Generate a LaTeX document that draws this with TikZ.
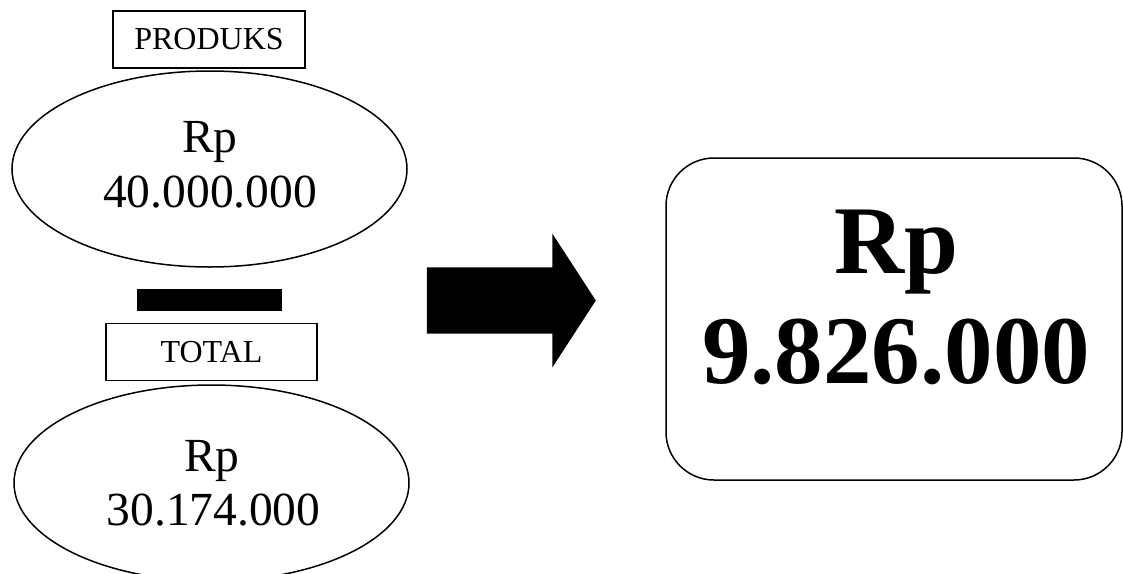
\documentclass[tikz,border=0pt]{standalone}
\usepackage{fontspec}
\setmainfont{Liberation Serif}
\usetikzlibrary{shapes.geometric,shapes.arrows}
\begin{document}
\begin{tikzpicture}[x=1pt,y=-1pt,
  lbl/.style={draw, line width=1.2pt, minimum width=192pt, minimum height=57pt, inner sep=0pt, font=\fontsize{32}{38}\selectfont},
  oval/.style={draw, ellipse, line width=1.5pt, minimum width=395pt, minimum height=196pt, inner sep=0pt},
  val/.style={anchor=base, inner sep=0pt, font=\fontsize{47.5}{56}\selectfont},
  big/.style={anchor=base, inner sep=0pt, font=\fontsize{97}{110}\selectfont\bfseries},
  blockarrow/.style={single arrow, fill=black, draw=none, inner xsep=0pt, inner ysep=33pt, minimum height=169pt, single arrow head extend=33.5pt, single arrow tip angle=114},
  resbox/.style={draw, rounded corners=48pt, line width=1.5pt, minimum width=456pt, minimum height=322pt, inner sep=0pt}]
\useasboundingbox (0,0) rectangle (1123,573);
% top value
\node[lbl] (lp) at (209,39.5) {PRODUKS};
\node[oval] (e1) at (209.5,169) {};
\node[val] (e1a) at (210,152) {Rp};
\node[val] (e1b) at (210,207) {40.000.000};
% minus bar
\node[fill=black, minimum width=145pt, minimum height=22pt, inner sep=0pt] (minus) at (209.5,300) {};
% bottom value
\node[lbl, minimum width=211pt] (lt) at (211.5,352) {TOTAL};
\node[oval] (e2) at (211.5,483) {};
\node[val] (e2a) at (212,471) {Rp};
\node[val] (e2b) at (213.5,525) {30.174.000};
% arrow
\node[blockarrow] (arr) at (500.5,300.5) {};
% result
\node[resbox] (res) at (894,319) {};
\node[big] (ra) at (896,273) {Rp};
\node[big] (rb) at (896,383) {9.826.000};
\end{tikzpicture}
\end{document}
